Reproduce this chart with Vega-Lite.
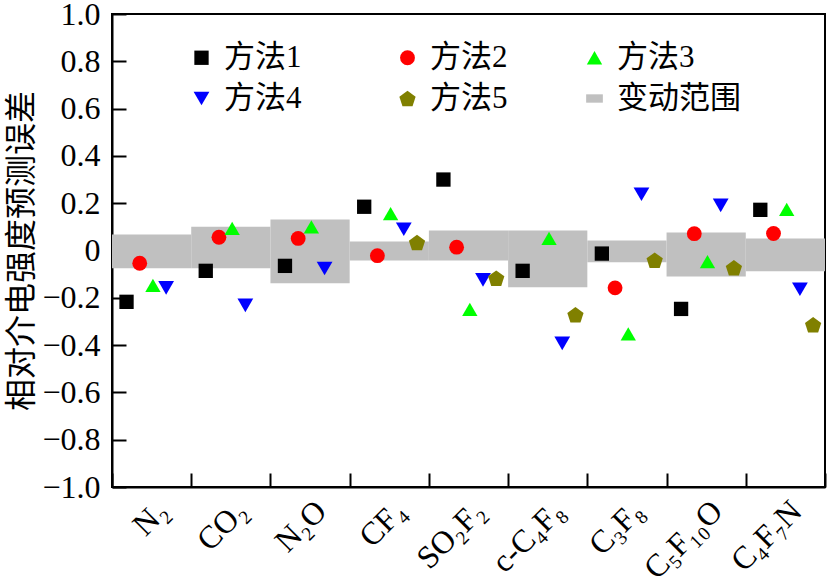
{
  "$schema": "https://vega.github.io/schema/vega-lite/v6.json",
  "width": 713,
  "height": 473,
  "autosize": "none",
  "padding": {"left": 112, "top": 14, "right": 3, "bottom": 101},
  "background": "white",
  "config": {
    "view": {"stroke": "black", "strokeWidth": 2},
    "font": "Liberation Serif"
  },
  "datasets": {
    "ranges": [
      {"gas": "N₂", "lo": -0.075, "hi": 0.068},
      {"gas": "CO₂", "lo": -0.075, "hi": 0.10},
      {"gas": "N₂O", "lo": -0.139, "hi": 0.131},
      {"gas": "CF₄", "lo": -0.042, "hi": 0.038},
      {"gas": "SO₂F₂", "lo": -0.042, "hi": 0.085},
      {"gas": "c-C₄F₈", "lo": -0.155, "hi": 0.085},
      {"gas": "C₃F₈", "lo": -0.05, "hi": 0.042},
      {"gas": "C₅F₁₀O", "lo": -0.11, "hi": 0.076},
      {"gas": "C₄F₇N", "lo": -0.088, "hi": 0.051}
    ],
    "points": [
      {"gas": "N₂", "method": "方法1", "value": -0.217},
      {"gas": "N₂", "method": "方法2", "value": -0.054},
      {"gas": "N₂", "method": "方法3", "value": -0.147},
      {"gas": "N₂", "method": "方法4", "value": -0.158},
      {"gas": "CO₂", "method": "方法1", "value": -0.086},
      {"gas": "CO₂", "method": "方法2", "value": 0.056},
      {"gas": "CO₂", "method": "方法3", "value": 0.094},
      {"gas": "CO₂", "method": "方法4", "value": -0.232},
      {"gas": "N₂O", "method": "方法1", "value": -0.065},
      {"gas": "N₂O", "method": "方法2", "value": 0.051},
      {"gas": "N₂O", "method": "方法3", "value": 0.10},
      {"gas": "N₂O", "method": "方法4", "value": -0.076},
      {"gas": "CF₄", "method": "方法1", "value": 0.185},
      {"gas": "CF₄", "method": "方法2", "value": -0.022},
      {"gas": "CF₄", "method": "方法3", "value": 0.156},
      {"gas": "CF₄", "method": "方法4", "value": 0.09},
      {"gas": "CF₄", "method": "方法5", "value": 0.034},
      {"gas": "SO₂F₂", "method": "方法1", "value": 0.30},
      {"gas": "SO₂F₂", "method": "方法2", "value": 0.014},
      {"gas": "SO₂F₂", "method": "方法3", "value": -0.249},
      {"gas": "SO₂F₂", "method": "方法4", "value": -0.124},
      {"gas": "SO₂F₂", "method": "方法5", "value": -0.117},
      {"gas": "c-C₄F₈", "method": "方法1", "value": -0.086},
      {"gas": "c-C₄F₈", "method": "方法3", "value": 0.051},
      {"gas": "c-C₄F₈", "method": "方法4", "value": -0.393},
      {"gas": "c-C₄F₈", "method": "方法5", "value": -0.272},
      {"gas": "C₃F₈", "method": "方法1", "value": -0.013},
      {"gas": "C₃F₈", "method": "方法2", "value": -0.158},
      {"gas": "C₃F₈", "method": "方法3", "value": -0.353},
      {"gas": "C₃F₈", "method": "方法4", "value": 0.238},
      {"gas": "C₃F₈", "method": "方法5", "value": -0.041},
      {"gas": "C₅F₁₀O", "method": "方法1", "value": -0.247},
      {"gas": "C₅F₁₀O", "method": "方法2", "value": 0.071},
      {"gas": "C₅F₁₀O", "method": "方法3", "value": -0.047},
      {"gas": "C₅F₁₀O", "method": "方法4", "value": 0.191},
      {"gas": "C₅F₁₀O", "method": "方法5", "value": -0.073},
      {"gas": "C₄F₇N", "method": "方法1", "value": 0.172},
      {"gas": "C₄F₇N", "method": "方法2", "value": 0.072},
      {"gas": "C₄F₇N", "method": "方法3", "value": 0.174},
      {"gas": "C₄F₇N", "method": "方法4", "value": -0.164},
      {"gas": "C₄F₇N", "method": "方法5", "value": -0.314}
    ]
  },
  "layer": [
    {
      "data": {"name": "ranges"},
      "mark": {"type": "rect", "color": "#c0c0c0"},
      "encoding": {
        "x": {
          "field": "gas",
          "type": "nominal",
          "sort": null,
          "bandPosition": 0,
          "scale": {
            "type": "band",
            "domain": ["N₂", "CO₂", "N₂O", "CF₄", "SO₂F₂", "c-C₄F₈", "C₃F₈", "C₅F₁₀O", "C₄F₇N"],
            "paddingInner": 0,
            "paddingOuter": 0
          },
          "axis": {
            "title": null,
            "labelAngle": -45,
            "labelFont": "Liberation Serif",
            "labelFontSize": 32,
            "labelColor": "black",
            "labelPadding": 22,
            "tickBand": "extent",
            "tickSize": -14,
            "tickWidth": 2,
            "tickColor": "black",
            "domainColor": "black",
            "domainWidth": 2,
            "grid": false
          }
        },
        "x2": {"field": "gas", "bandPosition": 1},
        "y": {
          "field": "hi",
          "type": "quantitative",
          "scale": {"domain": [-1, 1], "nice": false, "zero": false},
          "axis": {
            "title": "相对介电强度预测误差",
            "titleFont": "Noto Sans CJK SC",
            "titleFontSize": 32,
            "titleFontWeight": "normal",
            "titleColor": "black",
            "titleAngle": -90,
            "titleX": -91,
            "titleY": 236.5,
            "titleAlign": "center",
            "titleBaseline": "middle",
            "values": [-1, -0.8, -0.6, -0.4, -0.2, 0, 0.2, 0.4, 0.6, 0.8, 1],
            "labelExpr": "datum.value == 0 ? '0' : format(datum.value, '.1f')",
            "labelFont": "Liberation Serif",
            "labelFontSize": 32,
            "labelColor": "black",
            "labelPadding": 26,
            "tickSize": -14,
            "tickWidth": 2,
            "tickColor": "black",
            "domainColor": "black",
            "domainWidth": 2,
            "grid": false
          }
        },
        "y2": {"field": "lo"}
      }
    },
    {
      "data": {"name": "points"},
      "mark": {"type": "point", "filled": true, "opacity": 1, "strokeWidth": 0},
      "encoding": {
        "x": {"field": "gas", "type": "nominal", "sort": null},
        "xOffset": {
          "field": "method",
          "type": "nominal",
          "scale": {"type": "point", "domain": ["方法1", "方法2", "方法3", "方法4", "方法5"], "padding": 1.05, "align": 0.55}
        },
        "y": {"field": "value", "type": "quantitative"},
        "color": {
          "field": "method",
          "type": "nominal",
          "scale": {
            "domain": ["方法1", "方法2", "方法3", "方法4", "方法5", "变动范围"],
            "range": ["#000000", "#ff0000", "#00ff00", "#0000ff", "#808000", "#c0c0c0"]
          },
          "legend": {
            "title": null,
            "orient": "none",
            "legendX": 74,
            "legendY": 28,
            "direction": "horizontal",
            "columns": 3,
            "columnPadding": 71,
            "rowPadding": 9,
            "padding": 0,
            "labelFont": "Liberation Serif, Noto Sans CJK SC",
            "labelFontSize": 31,
            "labelColor": "black",
            "labelOffset": 7,
            "labelLimit": 400,
            "symbolStrokeWidth": 0,
            "symbolOpacity": 1,
            "labelExpr": "(datum.label == '方法1' || datum.label == '方法4') ? datum.label + '\u2009\u2009\u2009\u200b' : datum.label"
          }
        },
        "shape": {
          "field": "method",
          "type": "nominal",
          "scale": {
            "domain": ["方法1", "方法2", "方法3", "方法4", "方法5", "变动范围"],
            "range": ["square", "circle", "triangle-up", "triangle-down", "M0,-0.951L1,-0.225L0.618,0.951L-0.618,0.951L-1,-0.225Z", "M-1,-0.5H1V0.5H-1Z"]
          }
        },
        "size": {
          "field": "method",
          "type": "nominal",
          "scale": {
            "domain": ["方法1", "方法2", "方法3", "方法4", "方法5", "变动范围"],
            "range": [205, 279, 313, 313, 370, 713]
          }
        }
      }
    },
    {
      "mark": {"type": "rule", "color": "#ff0000", "strokeWidth": 2},
      "encoding": {"y": {"datum": -0.011}, "x": {"value": 2}, "x2": {"value": 711}}
    }
  ]
}
